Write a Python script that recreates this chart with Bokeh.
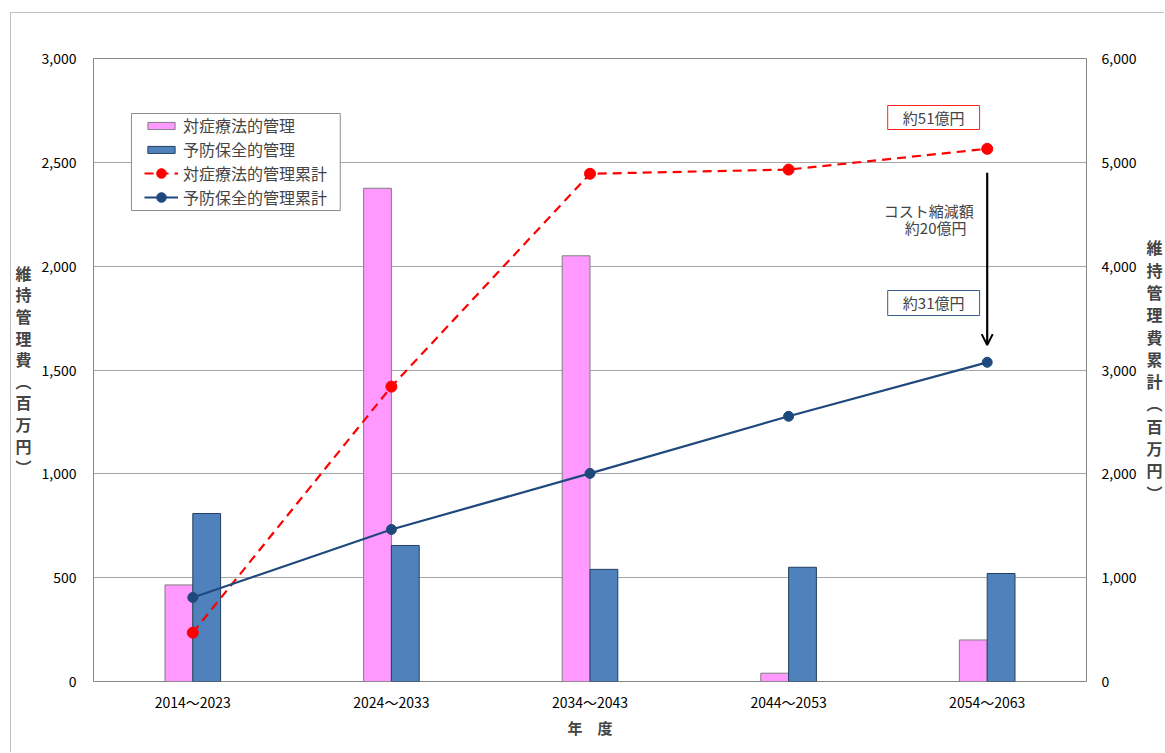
from bokeh.plotting import figure
from bokeh.models import (Range1d, LinearAxis, FixedTicker, NumeralTickFormatter, Legend,
                          LegendItem, Label, BoxAnnotation, Arrow, OpenHead, ColumnDataSource)
from bokeh.embed import file_html
from bokeh.resources import INLINE

# ---------------- data ----------------
periods = ["2014～2023", "2024～2033", "2034～2043", "2044～2053", "2054～2063"]
symptomatic = [465, 2375, 2050, 40, 200]          # 対症療法的管理 (left axis)
preventive = [809, 655, 540, 550, 520]            # 予防保全的管理 (left axis)
symptomatic_cum = [470, 2840, 4890, 4930, 5130]   # 対症療法的管理累計 (right axis)
preventive_cum = [809, 1464, 2004, 2554, 3074]    # 予防保全的管理累計 (right axis)
left_ticks = [0, 500, 1000, 1500, 2000, 2500, 3000]
right_ticks = [0, 1000, 2000, 3000, 4000, 5000, 6000]
series_names = ["対症療法的管理", "予防保全的管理", "対症療法的管理累計", "予防保全的管理累計"]
left_title = ["維", "持", "管", "理", "費", "︵", "百", "万", "円", "︶"]
right_title = ["維", "持", "管", "理", "費", "累", "計", "︵", "百", "万", "円", "︶"]

FONT = "Noto Sans CJK JP"
PINK, BLUE, RED, NAVY = "#ff99ff", "#4f81bd", "#ff0000", "#1f497d"

idx = list(range(len(periods)))
BW = 0.14
src = ColumnDataSource(dict(
    x=idx,
    xp=[i - BW / 2 for i in idx],
    xb=[i + BW / 2 for i in idx],
    sym=symptomatic, pre=preventive,
    sym_cum=symptomatic_cum, pre_cum=preventive_cum,
))

# frame geometry in page pixels (for annotation placement helpers)
FL, FR, FT, FB = 93, 1087, 58, 681
def px2x(px):
    return -0.5 + (px - FL) * 5.0 / (FR - FL)
def py2y(py):
    return (FB - py) * 3000.0 / (FB - FT)

p = figure(width=1154, height=740, x_range=Range1d(-0.5, 4.5), y_range=Range1d(0, 3000),
           output_backend="svg", toolbar_location=None,
           min_border_left=FL - 11, min_border_right=1165 - FR,
           min_border_top=FT - 13, min_border_bottom=753 - FB)
p.margin = (12, 0, 0, 10)
p.styles = {"border-top": "1px solid #c0c0c0", "border-left": "1px solid #c0c0c0"}
p.outline_line_color = "#868686"
p.outline_line_width = 1
p.background_fill_color = "white"
p.border_fill_color = "white"

p.extra_y_ranges = {"right": Range1d(0, 6000)}

# bars
r_pink = p.vbar(x="xp", top="sym", width=BW, source=src, fill_color=PINK,
                line_color="#7f7f7f", line_width=1)
r_blue = p.vbar(x="xb", top="pre", width=BW, source=src, fill_color=BLUE,
                line_color="#243f60", line_width=1)

# cumulative lines
r_red_l = p.line(x="x", y="sym_cum", source=src, y_range_name="right", line_color=RED,
                 line_width=2.2, line_dash="9 6")
r_red_m = p.scatter(x="x", y="sym_cum", source=src, y_range_name="right", size=11,
                    fill_color=RED, line_color=RED)
r_nav_l = p.line(x="x", y="pre_cum", source=src, y_range_name="right", line_color=NAVY,
                 line_width=2.2)
r_nav_m = p.scatter(x="x", y="pre_cum", source=src, y_range_name="right", size=10,
                    fill_color=NAVY, line_color=NAVY)

# axes
p.xaxis.ticker = FixedTicker(ticks=idx)
p.xaxis.major_label_overrides = {i: lab for i, lab in enumerate(periods)}
p.xaxis.axis_label = "年　度"
p.xaxis.axis_label_text_font = FONT
p.xaxis.axis_label_text_font_size = "15px"
p.xaxis.axis_label_text_font_style = "bold"
p.xaxis.axis_label_standoff = 2
p.xaxis.major_label_standoff = 10

p.yaxis.ticker = FixedTicker(ticks=left_ticks)
p.yaxis.formatter = NumeralTickFormatter(format="0,0")
p.yaxis.major_label_standoff = 17

ax_r = LinearAxis(y_range_name="right", ticker=FixedTicker(ticks=right_ticks),
                  formatter=NumeralTickFormatter(format="0,0"), major_label_standoff=15)
p.add_layout(ax_r, "right")

for ax in [p.xaxis[0], p.yaxis[0], ax_r]:
    ax.axis_line_color = None
    ax.major_tick_line_color = None
    ax.minor_tick_line_color = None
    ax.major_tick_out = 0
    ax.major_tick_in = 0
    ax.major_label_text_font = FONT
    ax.major_label_text_font_size = "14px"
    ax.major_label_text_color = "black"

# stacked upright vertical titles
for ax, chars, lh in [(p.yaxis[0], left_title, 0.9), (ax_r, right_title, 0.93)]:
    ax.axis_label = "\n".join(chars)
    ax.axis_label_orientation = "horizontal"
    ax.axis_label_text_font = FONT
    ax.axis_label_text_font_size = "16px"
    ax.axis_label_text_font_style = "bold"
    ax.axis_label_text_line_height = lh
    ax.axis_label_standoff = 7

p.xgrid.visible = False
p.ygrid.ticker = FixedTicker(ticks=left_ticks)
p.ygrid.grid_line_color = "#a6a6a6"
p.ygrid.grid_line_width = 1

# legend box (white, hides grid) then two borderless legends inside it
p.add_layout(BoxAnnotation(left=px2x(131), right=px2x(340), top=py2y(113), bottom=py2y(210),
                           fill_color="white", fill_alpha=1, line_color="#8c8c8c",
                           line_alpha=1, line_width=1))
leg_bars = Legend(items=[
    LegendItem(label=series_names[0], renderers=[r_pink]),
    LegendItem(label=series_names[1], renderers=[r_blue]),
], location=(51, 681 - 161))
leg_bars.glyph_height = 9
leg_bars.label_height = 23
leg_lines = Legend(items=[
    LegendItem(label=series_names[2], renderers=[r_red_l, r_red_m]),
    LegendItem(label=series_names[3], renderers=[r_nav_l, r_nav_m]),
], location=(51, 681 - 209))
leg_lines.glyph_height = 24
leg_lines.label_height = 24
for lg in [leg_bars, leg_lines]:
    lg.label_text_font = FONT
    lg.label_text_font_size = "16px"
    lg.glyph_width = 34
    lg.label_standoff = 5
    lg.spacing = 0
    lg.padding = 0
    lg.border_line_color = None
    lg.background_fill_alpha = 0
    p.add_layout(lg)

# annotation boxes
p.add_layout(BoxAnnotation(left=px2x(888), right=px2x(980), top=py2y(105), bottom=py2y(129),
                           fill_color="white", fill_alpha=1, line_color="#ff2020",
                           line_alpha=1, line_width=1))
p.add_layout(Label(x=px2x(934), y=py2y(117), text="約51億円", text_align="center",
                   text_baseline="middle", text_font=FONT, text_font_size="15px"))
p.add_layout(BoxAnnotation(left=px2x(888), right=px2x(980), top=py2y(290), bottom=py2y(315),
                           fill_color="white", fill_alpha=1, line_color="#385d8a",
                           line_alpha=1, line_width=1))
p.add_layout(Label(x=px2x(934), y=py2y(302), text="約31億円", text_align="center",
                   text_baseline="middle", text_font=FONT, text_font_size="15px"))
p.add_layout(Label(x=px2x(929), y=py2y(210), text="コスト縮減額", text_align="center",
                   text_baseline="middle", text_font=FONT, text_font_size="15px"))
p.add_layout(Label(x=px2x(936), y=py2y(227), text="約20億円", text_align="center",
                   text_baseline="middle", text_font=FONT, text_font_size="15px"))

# reduction arrow
p.add_layout(Arrow(end=OpenHead(size=11, line_width=2, line_color="black"),
                   x_start=4, y_start=4900, x_end=4, y_end=3240, y_range_name="right",
                   line_color="black", line_width=2.2))

open("out.html", "w").write(file_html(p, INLINE))
